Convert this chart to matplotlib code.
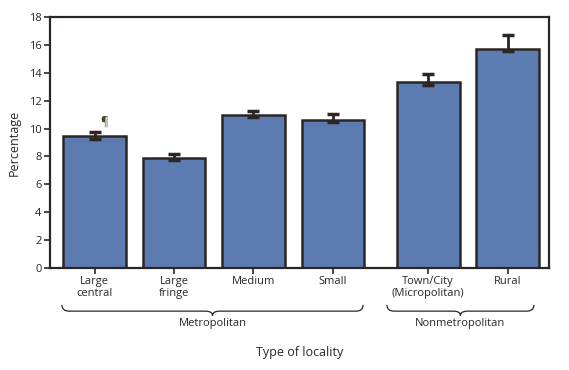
import matplotlib.pyplot as plt
from matplotlib.path import Path
from matplotlib.patches import PathPatch
from matplotlib.transforms import blended_transform_factory

plt.rcParams['font.family'] = ['Open Sans', 'DejaVu Sans']

# data
categories = ['Large\ncentral', 'Large\nfringe', 'Medium', 'Small',
              'Town/City\n(Micropolitan)', 'Rural']
values = [9.49, 7.91, 11.0, 10.62, 13.33, 15.71]
ci_low = [9.25, 7.72, 10.81, 10.45, 13.15, 15.59]
ci_high = [9.73, 8.2, 11.29, 11.05, 13.92, 16.71]
groups = ['Metropolitan', 'Nonmetropolitan']
positions = [0, 1, 2, 3, 4.2, 5.2]

bar_color = '#5b7bb1'
dark = '#2b2624'

fig = plt.figure(figsize=(5.69, 3.70), dpi=100)
ax = fig.add_axes([0.0879, 0.2757, 0.877, 0.678])

ax.bar(positions, values, width=0.79, color=bar_color, edgecolor=dark,
       linewidth=1.8, zorder=2)
yerr = [[v - lo for v, lo in zip(values, ci_low)],
        [hi - v for v, hi in zip(values, ci_high)]]
ax.errorbar(positions, values, yerr=yerr, fmt='none', ecolor=dark,
            elinewidth=2, capsize=4, capthick=2.5, zorder=3)

# footnote symbol above first bar
ax.text(positions[0] + 0.12, ci_high[0] + 0.25, '\u00b6', fontsize=8.5,
        color='#4a4030', ha='center', va='bottom')

ax.set_xlim(-0.56, 5.72)
ax.set_ylim(0, 18)
ax.set_yticks(range(0, 19, 2))
ax.set_xticks(positions)
ax.set_xticklabels(categories, fontsize=8, color=dark, linespacing=1.05)
ax.tick_params(axis='y', labelsize=8, colors=dark, length=4, width=1.2, pad=2)
ax.tick_params(axis='x', length=4, width=1.2, color=dark, pad=2)
for s in ax.spines.values():
    s.set_linewidth(1.6)
    s.set_color(dark)
ax.set_ylabel('Percentage', fontsize=9, color=dark, labelpad=6)

# braces under the category labels
tr = blended_transform_factory(ax.transData, ax.transAxes)


def brace(x0, x1, label):
    yt, ym, yb = -0.147, -0.172, -0.19
    rx = 0.09
    xm = (x0 + x1) / 2
    verts = [(x0, yt), (x0, ym), (x0 + rx, ym),
             (xm - rx, ym), (xm, ym), (xm, yb),
             (xm, ym), (xm + rx, ym),
             (x1 - rx, ym), (x1, ym), (x1, yt)]
    codes = [Path.MOVETO, Path.CURVE3, Path.CURVE3,
             Path.LINETO, Path.CURVE3, Path.CURVE3,
             Path.CURVE3, Path.CURVE3,
             Path.LINETO, Path.CURVE3, Path.CURVE3]
    ax.add_patch(PathPatch(Path(verts, codes), fill=False, edgecolor=dark,
                           linewidth=0.9, transform=tr, clip_on=False))
    ax.text(xm, -0.2, label, transform=tr, ha='center', va='top',
            fontsize=8, color=dark)


brace(-0.41, 3.38, groups[0])
brace(3.68, 5.53, groups[1])

ax.text(0.5, -0.31, 'Type of locality', transform=ax.transAxes,
        ha='center', va='top', fontsize=9, color=dark)

fig.savefig('out.png', dpi=100)
